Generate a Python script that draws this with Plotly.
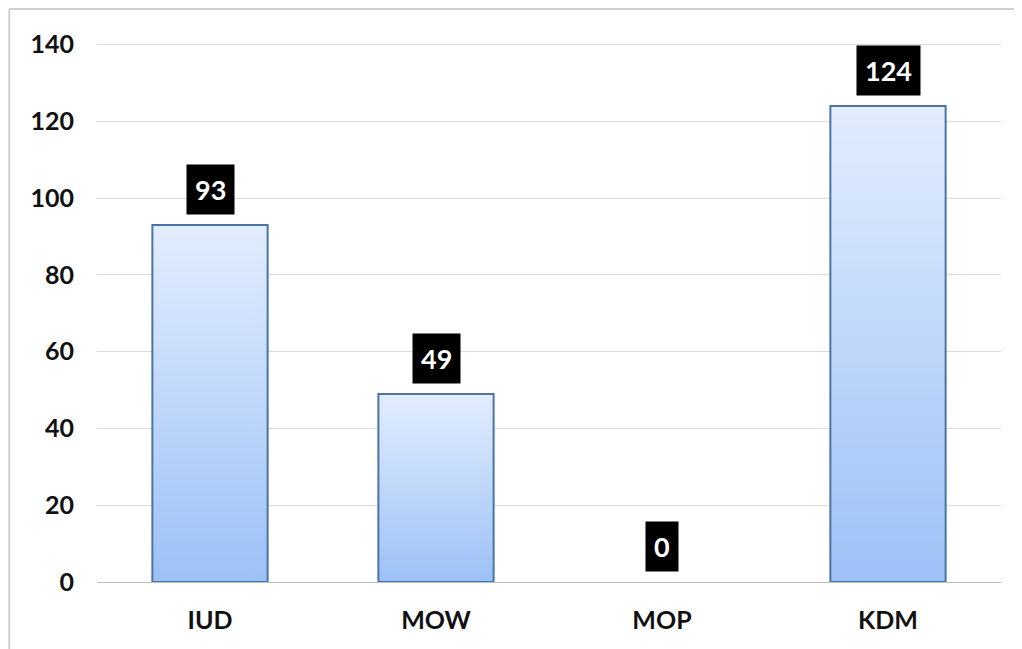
import plotly.graph_objects as go

categories = ["IUD", "MOW", "MOP", "KDM"]
values = [93, 49, 0, 124]
y_ticks = [0, 20, 40, 60, 80, 100, 120, 140]

BAR_HALF = 0.255
TOP_COLOR = "#e2edfd"
BOTTOM_COLOR = "#9cc1f6"
EDGE_COLOR = "#4a74a8"

fig = go.Figure()

for i, (cat, v) in enumerate(zip(categories, values)):
    if v <= 0:
        continue
    xs = [i - BAR_HALF, i - BAR_HALF, i + BAR_HALF, i + BAR_HALF, i - BAR_HALF]
    ys = [0, v, v, 0, 0]
    fig.add_trace(go.Scatter(
        x=xs, y=ys, mode="lines", fill="toself",
        fillgradient=dict(type="vertical",
                          colorscale=[[0, BOTTOM_COLOR], [1, TOP_COLOR]]),
        line=dict(color=EDGE_COLOR, width=2),
        hoverinfo="skip", showlegend=False, name=cat,
    ))

for i, v in enumerate(values):
    fig.add_annotation(
        x=i, y=v, xref="x", yref="y", text=f"<b>{v}</b>",
        showarrow=False, yanchor="bottom", yshift=10,
        bgcolor="black", borderpad=8,
        font=dict(family="Lato", size=27, color="white"),
    )

# chart frame (left and top edges visible in the cropped reference)
fig.add_shape(type="line", xref="paper", yref="paper",
              x0=-0.097, x1=-0.097, y0=-0.2, y1=1.063,
              line=dict(color="#d0d0d0", width=2))
fig.add_shape(type="line", xref="paper", yref="paper",
              x0=-0.097, x1=1.03, y0=1.063, y1=1.063,
              line=dict(color="#d0d0d0", width=2))

fig.update_layout(
    width=1022, height=649,
    margin=dict(l=89, r=29, t=35, b=75, autoexpand=False),
    paper_bgcolor="white", plot_bgcolor="white",
    showlegend=False,
    xaxis=dict(
        range=[-0.5, 3.5], tickvals=list(range(len(categories))),
        ticktext=[f"<b>{c}</b>" for c in categories],
        showgrid=False, zeroline=False, showline=False, ticks="",
        tickfont=dict(family="Lato", size=25, color="#111111"),
        ticklabelstandoff=21, automargin=False,
    ),
    yaxis=dict(
        range=[0, 140.4], tickvals=y_ticks,
        ticktext=[f"<b>{t}</b>" for t in y_ticks],
        showgrid=True, gridcolor="#d9d9d9", gridwidth=1,
        zeroline=True, zerolinecolor="#bfbfbf", zerolinewidth=1,
        showline=False, ticks="",
        tickfont=dict(family="Lato", size=25, color="#111111"),
        ticklabelstandoff=22, automargin=False,
    ),
)

fig.write_html("out.html")
